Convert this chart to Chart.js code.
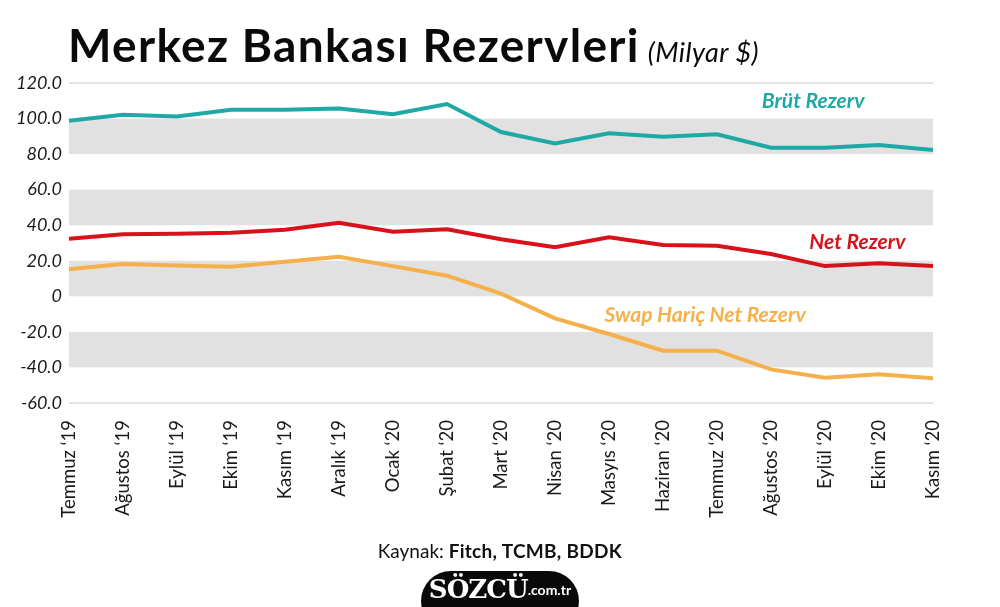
<!DOCTYPE html>
<html>
<head>
<meta charset="utf-8">
<script src="https://cdn.jsdelivr.net/npm/chart.js@4/dist/chart.umd.min.js"></script>
<style>
  html, body { margin: 0; padding: 0; background: #fff; }
  #wrap { position: relative; width: 1000px; height: 607px; overflow: hidden; font-family: Lato, sans-serif; color: #111; }
  #c { position: absolute; left: 0; top: 0; }
  .title { position: absolute; left: 68px; top: 17px; font-size: 46px; letter-spacing: 1.3px; font-weight: 700; color: #0a0a0a; white-space: nowrap; }
  .title span { font-size: 27px; letter-spacing: 0.5px; font-weight: 400; font-style: italic; margin-left: 8px; }
  .source { position: absolute; left: 0; width: 1000px; top: 539px; text-align: center; font-size: 19px; color: #111; }
  .source b { font-weight: 700; letter-spacing: 0.3px; }
  .logo { position: absolute; left: 421px; top: 571px; width: 158px; height: 60px; background: #0a0a0a; border-radius: 30px; color: #fff; text-align: center; }
  .logo .s { font-family: "DejaVu Serif", serif; font-weight: 700; font-size: 26px; letter-spacing: -1px; position: relative; top: 3px; }
  .logo .d { font-family: Lato, sans-serif; font-size: 14px; font-weight: 700; }
</style>
</head>
<body>
<div id="wrap">
  <canvas id="c" width="1000" height="607"></canvas>
  <div class="title">Merkez Bankası Rezervleri<span>(Milyar $)</span></div>
  <div class="source">Kaynak: <b>Fitch, TCMB, BDDK</b></div>
  <div class="logo"><span class="s">SÖZCÜ</span><span class="d">.com.tr</span></div>
</div>
<script>
const months = [
  "Temmuz ‘19", "Ağustos ‘19", "Eylül ‘19", "Ekim ‘19", "Kasım ‘19", "Aralık ‘19",
  "Ocak ‘20", "Şubat ‘20", "Mart ‘20", "Nisan ‘20", "Masyıs ‘20", "Haziran ‘20",
  "Temmuz ‘20", "Ağustos ‘20", "Eylül ‘20", "Ekim ‘20", "Kasım ‘20"
];
const brut = [98.8, 102.1, 101.2, 105.0, 105.0, 105.7, 102.4, 108.2, 92.4, 86.0, 91.7, 89.8, 91.2, 83.6, 83.6, 85.1, 82.3];
const net = [32.4, 34.9, 35.2, 35.8, 37.5, 41.4, 36.3, 37.7, 32.1, 27.6, 33.2, 28.9, 28.5, 23.8, 17.0, 18.6, 17.0];
const swap = [15.2, 18.2, 17.4, 16.7, 19.5, 22.3, 17.0, 11.6, 1.5, -12.4, -21.2, -30.6, -30.6, -41.1, -45.8, -43.9, -46.1];

const yTicks = [-60, -40, -20, 0, 20, 40, 60, 80, 100, 120];
const bands = [[80, 100], [40, 60], [0, 20], [-40, -20]];

// series name labels: [text, category position, value, colour]
const seriesLabels = [
  ["Brüt Rezerv", 13.78, 109.5, "#1fa9a6"],
  ["Net Rezerv", 14.6, 30.2, "#d8121b"],
  ["Swap Hariç Net Rezerv", 11.78, -10.5, "#f5b04c"]
];

const bandPlugin = {
  id: "bands",
  beforeDatasetsDraw(chart) {
    const { ctx, chartArea, scales } = chart;
    ctx.save();
    ctx.fillStyle = "#e1e1e1";
    bands.forEach(([lo, hi]) => {
      const y1 = scales.y.getPixelForValue(hi);
      const y2 = scales.y.getPixelForValue(lo);
      ctx.fillRect(chartArea.left, y1, chartArea.right - chartArea.left, y2 - y1);
    });
    ctx.restore();
  }
};

const labelPlugin = {
  id: "seriesLabels",
  afterDatasetsDraw(chart) {
    const { ctx, scales } = chart;
    ctx.save();
    ctx.font = "italic 700 21px Lato";
    ctx.textAlign = "center";
    ctx.textBaseline = "middle";
    seriesLabels.forEach(([text, pos, val, color]) => {
      ctx.fillStyle = color;
      ctx.fillText(text, scales.x.getPixelForValue(pos), scales.y.getPixelForValue(val));
    });
    ctx.restore();
  }
};

function line(label, data, color) {
  return { label, data, borderColor: color, borderWidth: 4, pointRadius: 0, tension: 0, fill: false };
}

new Chart(document.getElementById("c"), {
  type: "line",
  data: {
    labels: months,
    datasets: [
      line("Brüt Rezerv", brut, "#1fa9a6"),
      line("Net Rezerv", net, "#d8121b"),
      line("Swap Hariç Net Rezerv", swap, "#f5b04c")
    ]
  },
  options: {
    responsive: false,
    animation: false,
    layout: { padding: { top: 83, right: 67, bottom: 0, left: 0 } },
    plugins: { legend: { display: false }, tooltip: { enabled: false } },
    scales: {
      x: {
        offset: false,
        grid: { display: false },
        border: { display: false },
        afterFit: s => { s.height = 204; },
        ticks: {
          autoSkip: false, minRotation: 90, maxRotation: 90, padding: 9,
          color: "#1a1a1a", font: { family: "Lato", size: 18.5 }
        }
      },
      y: {
        min: -60, max: 120,
        afterFit: s => { s.width = 69; },
        afterBuildTicks: s => { s.ticks = yTicks.map(v => ({ value: v })); },
        border: { display: false },
        grid: {
          drawTicks: false, lineWidth: 2,
          color: c => (c.tick && (c.tick.value === 120 || c.tick.value === -60)) ? "#e4e4e4" : "rgba(0,0,0,0)"
        },
        ticks: {
          padding: 7, color: "#1a1a1a",
          font: { family: "Lato", size: 18, style: "italic" },
          callback: v => v === 0 ? "0" : v.toFixed(1)
        }
      }
    }
  },
  plugins: [bandPlugin, labelPlugin]
});
</script>
</body>
</html>
